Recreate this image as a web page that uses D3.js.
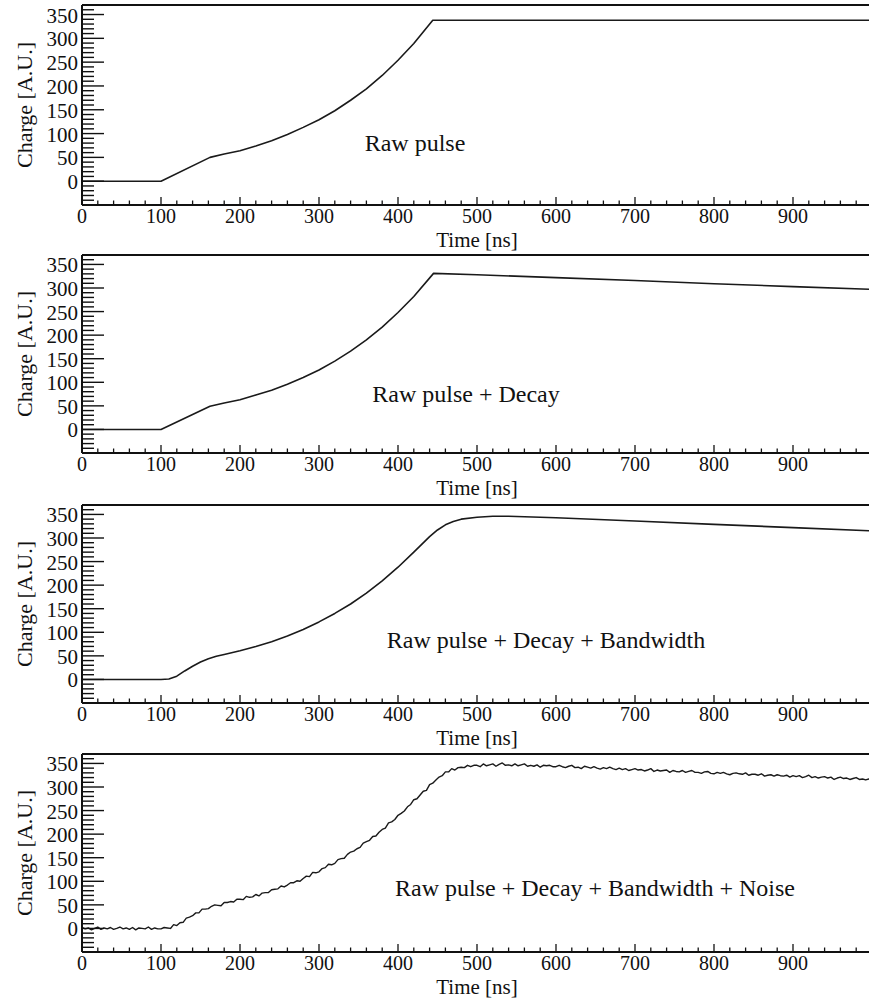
<!DOCTYPE html>
<html>
<head>
<meta charset="utf-8">
<script src="https://cdn.jsdelivr.net/npm/d3@7/dist/d3.min.js"></script>
<style>
  html, body { margin: 0; padding: 0; background: #fff; }
  svg { display: block; }
</style>
</head>
<body>
<svg id="chart" width="869" height="999" font-family="'Liberation Serif', 'Times New Roman', Times, 'DejaVu Serif', serif"></svg>
<script>
// ---------------- data ----------------
const timeTickLabels = [0, 100, 200, 300, 400, 500, 600, 700, 800, 900];
const chargeTickLabels = [0, 50, 100, 150, 200, 250, 300, 350];
const panelTitles = [
  "Raw pulse",
  "Raw pulse + Decay",
  "Raw pulse + Decay + Bandwidth",
  "Raw pulse + Decay + Bandwidth + Noise"
];
const xAxisTitle = "Time [ns]";
const yAxisTitle = "Charge [A.U.]";

// Panel 1: raw pulse
const rawTime   = [0, 100, 162, 180, 200, 220, 240, 260, 280, 300, 320, 340, 360, 380, 400, 420, 444, 1000];
const rawCharge = [0, 0,   50,  57,  64,  74,  85,  98,  113, 129, 148, 170, 194, 222, 254, 289, 338, 338];

// Panel 2: raw pulse + decay
const decayTime   = [0, 100, 162, 180, 200, 220, 240, 260, 280, 300, 320, 340, 360, 380, 400, 420, 445, 500, 600, 700, 800, 900, 1000];
const decayCharge = [0, 0,   49,  56,  63,  73,  83,  96,  110, 126, 145, 166, 190, 217, 248, 282, 331, 328, 322, 316, 309, 303, 297];

// Panel 3: raw pulse + decay + bandwidth
const bwTime   = [0, 100, 110, 120, 130, 140, 150, 160, 170, 180, 200, 220, 240, 260, 280, 300, 320, 340, 360, 380, 400, 420, 440, 450, 460, 470, 480, 500, 520, 540, 560, 600, 700, 800, 900, 1000];
const bwCharge = [0, 0,   1,   7,   18,  28,  37,  44,  49,  53,  61,  70,  80,  92,  106, 122, 140, 160, 183, 209, 238, 270, 303, 317, 328, 335, 340, 344, 346, 346, 345, 343, 336, 329, 322, 315];

// Panel 4: raw pulse + decay + bandwidth + noise, sampled every 4 ns from 0 to 1000 ns
const noiseSampleStep = 4;
const noiseCharge = [
  2,-1,1,-3,0,3,-2,1,-1,2,-2,0,3,-1,1,-2,2,-3,1,0,-1,3,-2,1,-1,
  -1,2,1,0,8,6,12,13,22,24,27,33,33,41,41,42,47,50,49,48,55,55,57,56,62,
  62,61,68,66,67,72,69,75,76,76,82,83,84,90,88,92,97,97,101,100,106,111,110,119,118,
  120,127,129,136,135,138,146,148,149,157,162,164,169,172,181,184,187,195,196,204,210,213,224,226,231,
  240,244,249,258,263,273,275,283,291,293,305,308,315,321,324,332,332,339,336,341,342,341,346,343,346,
  346,343,349,345,347,349,344,348,351,346,347,345,349,345,347,349,344,346,344,347,342,346,345,346,343,
  343,346,343,341,344,346,341,342,339,344,342,340,343,340,338,341,339,342,339,337,340,337,339,335,337,
  339,336,337,334,336,339,333,336,334,335,336,331,335,333,332,335,331,333,335,331,331,329,332,333,329,
  328,331,329,331,328,326,329,330,328,327,330,325,327,327,325,328,323,325,326,323,326,324,323,325,321,
  324,322,324,320,322,325,320,322,319,321,322,319,321,316,319,321,318,319,316,318,320,316,317,315,317,316
];
const noiseTime = noiseCharge.map((_, i) => i * noiseSampleStep);

const series = [
  { t: rawTime, q: rawCharge, w: 1.6 },
  { t: decayTime, q: decayCharge, w: 1.6 },
  { t: bwTime, q: bwCharge, w: 1.6 },
  { t: noiseTime, q: noiseCharge, w: 1.4 }
];

// ---------------- layout ----------------
const svg = d3.select("#chart");
const left = 82, right = 872;
const panelTops = [5, 255, 505, 754];
const panelBottoms = [205, 453, 703, 952];
const titlePos = [ [415, 151], [466, 402], [546, 648], [595, 896] ]; // pixel centre/baseline

const x = d3.scaleLinear().domain([0, 1000]).range([left, right]);

panelTops.forEach((top, i) => {
  const bottom = panelBottoms[i];
  const y = d3.scaleLinear().domain([-50, 370]).range([bottom, top]);
  const g = svg.append("g");

  const clipId = "clip" + i;
  svg.append("clipPath").attr("id", clipId)
    .append("rect").attr("x", left).attr("y", top).attr("width", right - left).attr("height", bottom - top);

  const s = series[i];
  const pts = s.t.map((t, k) => [t, s.q[k]]);
  g.append("path")
    .attr("clip-path", `url(#${clipId})`)
    .attr("d", d3.line().x(d => x(d[0])).y(d => y(d[1]))(pts))
    .attr("fill", "none")
    .attr("stroke", "#1a1a1a")
    .attr("stroke-width", s.w)
    .attr("stroke-linejoin", "round");

  // y ticks (minor every 10, major every 50)
  const yMinor = d3.range(-50, 371, 10);
  g.selectAll(".ymin").data(yMinor).enter().append("line")
    .attr("x1", left).attr("x2", d => left + (d % 50 === 0 ? 22 : 12))
    .attr("y1", d => y(d)).attr("y2", d => y(d))
    .attr("stroke", "#111").attr("stroke-width", 1.4);

  // x ticks (minor every 20, major every 100)
  const xMinor = d3.range(0, 1001, 20);
  g.selectAll(".xmin").data(xMinor).enter().append("line")
    .attr("x1", d => x(d)).attr("x2", d => x(d))
    .attr("y1", bottom).attr("y2", d => bottom - (d % 100 === 0 ? 8 : 4.5))
    .attr("stroke", "#111").attr("stroke-width", 1.3);

  // frame
  [[left, top, right, top], [left, bottom, right, bottom], [left, top, left, bottom], [right, top, right, bottom]]
    .forEach(c => g.append("line").attr("x1", c[0]).attr("y1", c[1]).attr("x2", c[2]).attr("y2", c[3])
      .attr("stroke", "#111").attr("stroke-width", 2));

  // y tick labels
  g.selectAll(".ylab").data(chargeTickLabels).enter().append("text")
    .attr("x", left - 4).attr("y", d => y(d) + 8)
    .attr("text-anchor", "end").attr("font-size", 21).attr("fill", "#111")
    .text(d => d);

  // x tick labels
  g.selectAll(".xlab").data(timeTickLabels).enter().append("text")
    .attr("x", d => x(d)).attr("y", bottom + 18)
    .attr("text-anchor", "middle").attr("font-size", 20).attr("fill", "#111")
    .text(d => d);

  // axis titles
  g.append("text")
    .attr("x", (left + right) / 2).attr("y", bottom + 41.5)
    .attr("text-anchor", "middle").attr("font-size", 21).attr("fill", "#111")
    .text(xAxisTitle);
  g.append("text")
    .attr("transform", `translate(32,${(top + bottom) / 2}) rotate(-90)`)
    .attr("text-anchor", "middle").attr("font-size", 22).attr("fill", "#111")
    .text(yAxisTitle);

  // panel title
  g.append("text")
    .attr("x", titlePos[i][0]).attr("y", titlePos[i][1])
    .attr("text-anchor", "middle").attr("font-size", 24).attr("fill", "#111")
    .text(panelTitles[i]);
});
</script>
</body>
</html>
